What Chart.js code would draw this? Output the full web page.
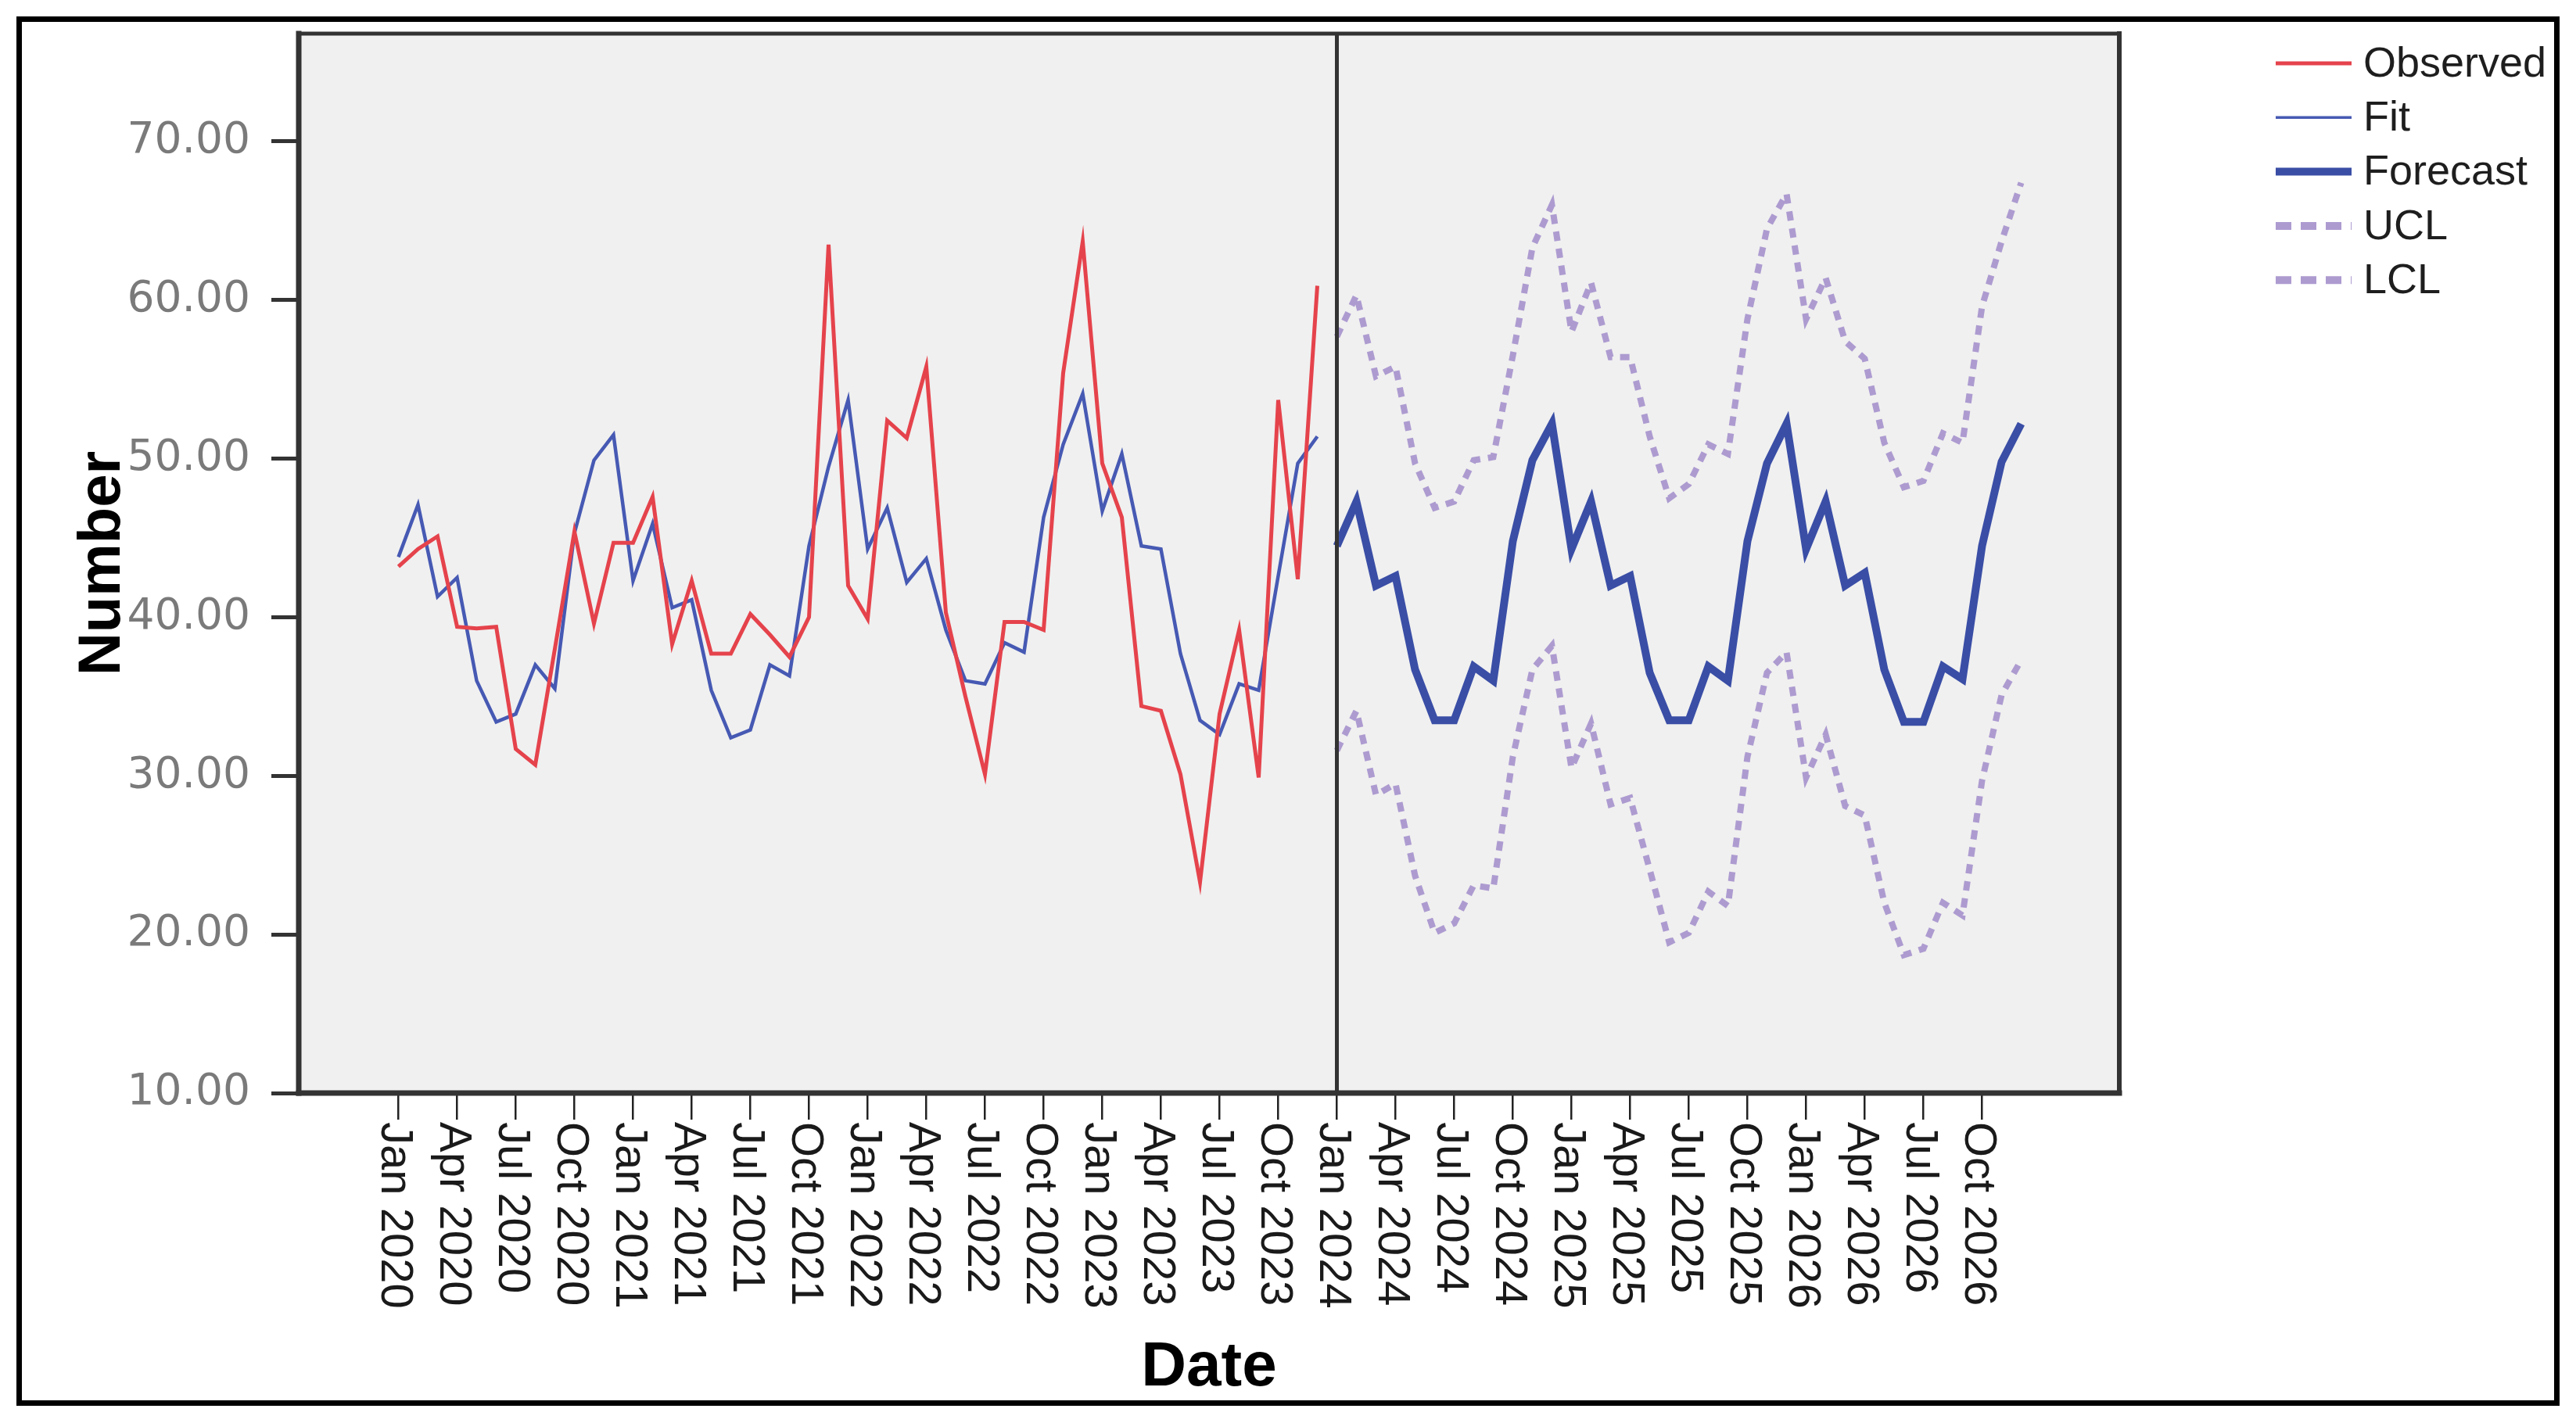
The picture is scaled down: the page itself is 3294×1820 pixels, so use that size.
<!DOCTYPE html>
<html>
<head>
<meta charset="utf-8">
<script src="https://cdn.jsdelivr.net/npm/chart.js@4.4.1/dist/chart.umd.min.js"></script>
<style>
html,body{margin:0;padding:0;background:#fff;}
#wrap{position:relative;width:3294px;height:1820px;overflow:hidden;}
#c{position:absolute;left:0;top:0;}
#frame{position:absolute;left:21px;top:21px;width:3252px;height:1777px;border:7px solid #000;box-sizing:border-box;pointer-events:none;}
</style>
</head>
<body>
<div id="wrap"><canvas id="c" width="3294" height="1820"></canvas><div id="frame"></div></div>
<script>
// ---- data (monthly, index 0 = Jan 2020) ----
const tickLabels = [
  'Jan 2020','Apr 2020','Jul 2020','Oct 2020',
  'Jan 2021','Apr 2021','Jul 2021','Oct 2021',
  'Jan 2022','Apr 2022','Jul 2022','Oct 2022',
  'Jan 2023','Apr 2023','Jul 2023','Oct 2023',
  'Jan 2024','Apr 2024','Jul 2024','Oct 2024',
  'Jan 2025','Apr 2025','Jul 2025','Oct 2025',
  'Jan 2026','Apr 2026','Jul 2026','Oct 2026'
];
const tickStep = 3;          // one label every 3 months
const forecastStart = 48;    // Jan 2024

const observed = [
  43.2, 44.3, 45.1, 39.4, 39.3, 39.4, 31.7, 30.7, 38.0, 45.4, 39.6, 44.7,
  44.7, 47.6, 38.3, 42.3, 37.7, 37.7, 40.2, 38.9, 37.5, 40.0, 63.5, 42.0,
  39.9, 52.4, 51.3, 55.8, 40.3, 35.0, 30.1, 39.7, 39.7, 39.2, 55.4, 63.7,
  49.7, 46.3, 34.4, 34.1, 30.1, 23.3, 33.9, 39.2, 29.9, 53.7, 42.4, 60.9
];
const fit = [
  43.8, 47.1, 41.3, 42.5, 36.0, 33.4, 33.9, 37.0, 35.5, 45.3, 49.9, 51.5,
  42.3, 45.9, 40.6, 41.1, 35.4, 32.4, 32.9, 37.0, 36.3, 44.5, 49.5, 53.7,
  44.3, 46.9, 42.2, 43.7, 39.2, 36.0, 35.8, 38.4, 37.8, 46.3, 50.9, 54.1,
  46.7, 50.3, 44.5, 44.3, 37.7, 33.5, 32.6, 35.8, 35.4, 42.6, 49.7, 51.4
];
const forecast = [
  44.5, 47.3, 42.0, 42.6, 36.7, 33.5, 33.5, 36.9, 36.0, 44.8, 49.9, 52.2,
  44.3, 47.3, 42.0, 42.6, 36.5, 33.5, 33.5, 36.9, 36.0, 44.8, 49.7, 52.2,
  44.3, 47.3, 42.0, 42.8, 36.7, 33.4, 33.4, 36.9, 36.1, 44.5, 49.8, 52.2
];
const ucl = [
  57.7, 60.3, 55.2, 55.8, 49.7, 46.9, 47.3, 49.9, 50.1, 56.5, 63.3, 66.0,
  58.0, 61.1, 56.4, 56.4, 51.4, 47.5, 48.4, 50.9, 50.3, 58.8, 64.5, 66.7,
  58.8, 61.4, 57.4, 56.3, 51.0, 48.2, 48.6, 51.6, 51.0, 59.6, 63.7, 67.4
];
const lcl = [
  31.6, 34.1, 28.8, 29.5, 23.7, 20.1, 20.7, 23.1, 22.9, 31.2, 36.7, 38.2,
  30.5, 33.3, 28.2, 28.6, 24.1, 19.5, 20.1, 22.7, 21.8, 31.2, 36.5, 37.8,
  29.9, 32.6, 28.1, 27.5, 22.0, 18.7, 19.1, 22.0, 21.2, 29.7, 35.1, 37.3
];

// ---- build points from arrays ----
const pts = (arr, start) => arr.map((v, i) => ({x: start + i, y: v}));

const datasets = [
  {label: 'Observed', data: pts(observed, 0), borderColor: '#e5434c', borderWidth: 5,
   legendWidth: 5, legendDash: []},
  {label: 'Fit', data: pts(fit, 0), borderColor: '#4659b3', borderWidth: 4.5,
   legendWidth: 3.5, legendDash: []},
  {label: 'Forecast', data: pts(forecast, forecastStart), borderColor: '#3a4ea6', borderWidth: 10,
   legendWidth: 10, legendDash: []},
  {label: 'UCL', data: pts(ucl, forecastStart), borderColor: '#ad9bd0', borderWidth: 8,
   borderDash: [12, 10], legendWidth: 10, legendDash: [20, 12]},
  {label: 'LCL', data: pts(lcl, forecastStart), borderColor: '#ad9bd0', borderWidth: 8,
   borderDash: [12, 10], legendWidth: 10, legendDash: [20, 12]}
].map(d => Object.assign({pointRadius: 0, pointHoverRadius: 0, tension: 0, fill: false,
  borderJoinStyle: 'miter', borderCapStyle: 'butt'}, d));

// ---- plugins ----
const plotBg = {
  id: 'plotBg',
  beforeDraw(chart) {
    const {ctx, chartArea: a} = chart;
    ctx.save();
    ctx.fillStyle = '#f0f0f0';
    ctx.fillRect(a.left, a.top, a.right - a.left, a.bottom - a.top);
    ctx.restore();
  }
};

const plotFrame = {
  id: 'plotFrame',
  afterDatasetsDraw(chart) {
    const {ctx, chartArea: a} = chart;
    const xs = chart.scales.x;
    ctx.save();
    ctx.strokeStyle = '#333';
    const xv = xs.getPixelForValue(forecastStart);
    ctx.lineWidth = 5;
    ctx.beginPath(); ctx.moveTo(xv, a.top); ctx.lineTo(xv, a.bottom); ctx.stroke();
    ctx.lineCap = 'square';
    ctx.lineWidth = 5; ctx.beginPath(); ctx.moveTo(a.left, a.top); ctx.lineTo(a.right, a.top); ctx.stroke();
    ctx.lineWidth = 6; ctx.beginPath(); ctx.moveTo(a.right, a.top); ctx.lineTo(a.right, a.bottom); ctx.stroke();
    ctx.lineWidth = 7; ctx.beginPath(); ctx.moveTo(a.left, a.top); ctx.lineTo(a.left, a.bottom); ctx.stroke();
    ctx.lineWidth = 7; ctx.beginPath(); ctx.moveTo(a.left, a.bottom); ctx.lineTo(a.right, a.bottom); ctx.stroke();
    ctx.restore();
  }
};

const rotatedXLabels = {
  id: 'rotatedXLabels',
  afterDraw(chart) {
    const {ctx, chartArea: a} = chart;
    const xs = chart.scales.x;
    ctx.save();
    ctx.fillStyle = '#1a1a1a';
    ctx.font = '58px "Liberation Sans", Arial, sans-serif';
    ctx.textAlign = 'left';
    ctx.textBaseline = 'middle';
    tickLabels.forEach((lab, k) => {
      const x = xs.getPixelForValue(k * tickStep);
      ctx.save();
      ctx.translate(x - 6, a.bottom + 37);
      ctx.rotate(Math.PI / 2);
      ctx.fillText(lab, 0, 0);
      ctx.restore();
    });
    ctx.restore();
  }
};

const customLegend = {
  id: 'customLegend',
  afterDraw(chart) {
    const {ctx} = chart;
    const x0 = 2910, x1 = 3007, tx = 3022, y0 = 81, dy = 69.3;
    ctx.save();
    ctx.font = '54px "Liberation Sans", Arial, sans-serif';
    ctx.textBaseline = 'middle';
    ctx.textAlign = 'left';
    chart.data.datasets.forEach((d, i) => {
      const y = y0 + i * dy;
      ctx.strokeStyle = d.borderColor;
      ctx.lineWidth = d.legendWidth;
      ctx.setLineDash(d.legendDash || []);
      ctx.beginPath(); ctx.moveTo(x0, y); ctx.lineTo(x1, y); ctx.stroke();
      ctx.setLineDash([]);
      ctx.fillStyle = '#1e1e1e';
      ctx.fillText(d.label, tx, y + 2);
    });
    ctx.restore();
  }
};

new Chart(document.getElementById('c'), {
  type: 'line',
  data: {datasets},
  options: {
    responsive: false,
    animation: false,
    devicePixelRatio: 1,
    layout: {padding: {left: 0, top: 43, right: 584, bottom: 0}},
    plugins: {legend: {display: false}, tooltip: {enabled: false}},
    scales: {
      x: {
        type: 'linear',
        min: -5.1,
        max: 88.02,
        afterBuildTicks(s) { s.ticks = tickLabels.map((_, k) => ({value: k * tickStep})); },
        afterFit(s) { s.height = 422; s.paddingLeft = 0; s.paddingRight = 0; },
        ticks: {display: false},
        grid: {display: true, drawOnChartArea: false, drawTicks: true, tickLength: 34,
               lineWidth: 2.5, color: '#222'},
        border: {display: false},
        title: {display: true, text: 'Date', color: '#000',
                font: {family: '"Liberation Sans", Arial, sans-serif', size: 80, weight: 'bold'},
                padding: {top: 0, bottom: 22}}
      },
      y: {
        type: 'linear',
        min: 10,
        max: 76.8,
        afterBuildTicks(s) {
          s.ticks = s.ticks.filter(t => Math.abs(t.value / 10 - Math.round(t.value / 10)) < 1e-6);
        },
        afterFit(s) { s.width = 382; s.paddingTop = 0; s.paddingBottom = 0; },
        ticks: {stepSize: 10, padding: 27, color: '#7a7a7a',
                font: {family: '"DejaVu Sans", sans-serif', size: 55},
                callback: v => Number(v).toFixed(2)},
        grid: {display: true, drawOnChartArea: false, drawTicks: true, tickLength: 35,
               lineWidth: 5, color: '#333'},
        border: {display: false},
        title: {display: true, text: 'Number', color: '#000',
                font: {family: '"Liberation Sans", Arial, sans-serif', size: 76, weight: 'bold'},
                padding: {top: 86, bottom: 0}}
      }
    }
  },
  plugins: [plotBg, plotFrame, rotatedXLabels, customLegend]
});
</script>
</body>
</html>
